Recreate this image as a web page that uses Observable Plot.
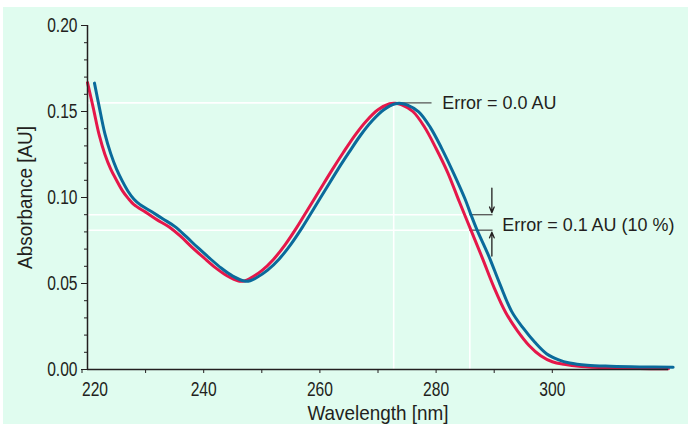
<!DOCTYPE html>
<html>
<head>
<meta charset="utf-8">
<script src="https://cdn.jsdelivr.net/npm/d3@7"></script>
<script src="https://cdn.jsdelivr.net/npm/@observablehq/plot@0.6"></script>
<style>
  html, body { margin: 0; padding: 0; background: #ffffff; }
  #frame { position: absolute; left: 3px; top: 7px; width: 685px; height: 417px; background: #e0fcef; overflow: hidden; }
  #frame svg { display: block; }
</style>
</head>
<body>
<div id="frame"></div>
<script>
// Reference spectrum (red)
const redWavelength = [220, 221, 222, 223, 224, 225, 226, 227, 228, 230, 232, 234, 236, 238, 240, 242, 244, 246, 247, 248, 250, 252, 254, 256, 258, 260, 262, 264, 266, 268, 270, 272, 273, 274, 276, 278, 280, 282, 284, 286, 288, 290, 292, 294, 296, 298, 300, 302, 305, 310, 315, 320];
const redAbsorbance = [0.1668, 0.152, 0.1365, 0.125, 0.1165, 0.110, 0.1040, 0.0995, 0.0958, 0.0915, 0.0870, 0.0830, 0.0775, 0.0710, 0.0650, 0.0592, 0.0545, 0.0514, 0.0515, 0.0530, 0.0575, 0.0640, 0.0725, 0.0825, 0.0935, 0.1045, 0.1155, 0.1260, 0.1360, 0.1445, 0.1510, 0.1545, 0.1548, 0.1540, 0.1500, 0.1410, 0.1285, 0.1145, 0.0975, 0.0810, 0.0645, 0.0475, 0.0330, 0.0225, 0.0140, 0.0080, 0.0045, 0.0030, 0.0018, 0.0010, 0.0006, 0.0004];

// Shifted spectrum (blue)
const blueWavelength = [221.2, 222, 223, 224, 225, 226, 227, 228, 229, 231, 233, 235, 237, 239, 241, 243, 245, 247, 248, 249, 251, 253, 255, 257, 259, 261, 263, 265, 267, 269, 271, 273, 274, 275, 277, 279, 281, 283, 285, 286, 287, 289, 291, 293, 295, 297, 299, 301, 303, 306, 310, 315, 320.8];
const blueAbsorbance = [0.1665, 0.153, 0.137, 0.1255, 0.1165, 0.1095, 0.1035, 0.0990, 0.0960, 0.0918, 0.0875, 0.0832, 0.0772, 0.0708, 0.0648, 0.0590, 0.0543, 0.0514, 0.0516, 0.0532, 0.0578, 0.0643, 0.0728, 0.0828, 0.0938, 0.1048, 0.1158, 0.1262, 0.1362, 0.1446, 0.1510, 0.1545, 0.1547, 0.1538, 0.1498, 0.1408, 0.1283, 0.1142, 0.0990, 0.0900, 0.0815, 0.0665, 0.0495, 0.0338, 0.0240, 0.0158, 0.0092, 0.0058, 0.0038, 0.0025, 0.0019, 0.0015, 0.0013];

// Axis ticks
const xFirstTick = [220];
const xTickLabels = [240, 260, 280, 300];
const xMinorTicks = [230, 250, 270, 290];
const yTickLabels = [0.00, 0.05, 0.10, 0.15, 0.20];
const yMinorTicks = [0.01, 0.02, 0.03, 0.04, 0.06, 0.07, 0.08, 0.09, 0.11, 0.12, 0.13, 0.14, 0.16, 0.17, 0.18, 0.19];

// Annotation values
const peakWavelength = 272.7;
const peakAbsorbance = 0.155;
const errorWavelength = 285.8;
const errorHigh = 0.090;
const errorLow = 0.081;
const annotations = [
  {text: "Error = 0.0 AU", x: 281.05, y: 0.1547},
  {text: "Error = 0.1 AU (10 %)", x: 291.4, y: 0.0842}
];

const red = redWavelength.map((w, i) => ({w, a: redAbsorbance[i]}));
const blue = blueWavelength.map((w, i) => ({w, a: blueAbsorbance[i]}));

const ink = "#231f20";
const font = "'Liberation Sans', Arial, sans-serif";
const TICK_FS = 19.5;
const NOTE_FS = 18.5;

const xAxisOpts = {tickSize: 4, tickPadding: 9, tickFormat: d => String(d), fontSize: TICK_FS, label: null, stroke: ink, fill: ink};

const chart = Plot.plot({
  width: 685,
  height: 417,
  marginLeft: 84,
  marginRight: 20,
  marginTop: 18,
  marginBottom: 55,
  x: {domain: [220, 320], axis: null},
  y: {domain: [0, 0.2], axis: null},
  style: {background: "transparent", fontFamily: font, color: ink, overflow: "visible"},
  marks: [
    // white guide lines
    Plot.ruleY([peakAbsorbance], {x1: 220, x2: peakWavelength, stroke: "white", strokeWidth: 1.6}),
    Plot.ruleX([peakWavelength], {y1: 0, y2: peakAbsorbance, stroke: "white", strokeWidth: 1.6}),
    Plot.ruleY([errorHigh, errorLow], {x1: 220, x2: errorWavelength, stroke: "white", strokeWidth: 1.6}),
    Plot.ruleX([errorWavelength], {y1: 0, y2: errorHigh, stroke: "white", strokeWidth: 1.6}),
    // annotation leader lines
    Plot.ruleY([peakAbsorbance], {x1: 273.2, x2: 279.3, stroke: "#555", strokeWidth: 1.3}),
    Plot.ruleY([errorHigh, errorLow], {x1: errorWavelength, x2: 289.8, stroke: "#555", strokeWidth: 1.3}),
    Plot.arrow([{x: 289.6, y1: 0.1055, y2: errorHigh + 0.0012}], {x1: "x", x2: "x", y1: "y1", y2: "y2", stroke: ink, strokeWidth: 1.3, headLength: 7, headAngle: 45}),
    Plot.arrow([{x: 289.6, y1: 0.0660, y2: errorLow - 0.0012}], {x1: "x", x2: "x", y1: "y1", y2: "y2", stroke: ink, strokeWidth: 1.3, headLength: 7, headAngle: 45}),
    // spectra
    Plot.line(red, {x: "w", y: "a", stroke: "#e5174a", strokeWidth: 3, curve: "catmull-rom"}),
    Plot.line(blue, {x: "w", y: "a", stroke: "#0a6a9b", strokeWidth: 3, curve: "catmull-rom"}),
    // axes
    Plot.ruleY([0], {x1: 220, x2: 320, stroke: ink, strokeWidth: 1.5}),
    Plot.ruleX([220], {y1: 0, y2: 0.2, stroke: ink, strokeWidth: 1.5}),
    Plot.axisX(xFirstTick, {...xAxisOpts, textAnchor: "start", dx: -5.5}),
    Plot.axisX(xTickLabels, xAxisOpts),
    Plot.axisX(xMinorTicks, {tickSize: 4, tickFormat: () => "", label: null, stroke: ink}),
    Plot.axisY(yTickLabels, {tickSize: 6, tickPadding: 4, tickFormat: d3.format(".2f"), fontSize: TICK_FS, label: null, stroke: ink, fill: ink}),
    Plot.axisY(yMinorTicks, {tickSize: 3, tickFormat: () => "", label: null, stroke: ink}),
    // axis titles
    Plot.text(["Absorbance [AU]"], {frameAnchor: "left", textAnchor: "middle", lineAnchor: "middle", rotate: -90, dx: -62.5, fontSize: 21, fill: ink}),
    Plot.text(["Wavelength [nm]"], {frameAnchor: "bottom", textAnchor: "middle", lineAnchor: "middle", dy: 44, fontSize: 21, fill: ink}),
    // annotations
    Plot.text(annotations, {x: "x", y: "y", text: "text", textAnchor: "start", lineAnchor: "middle", fontSize: NOTE_FS, fill: ink})
  ]
});
document.getElementById("frame").appendChild(chart);

// Condense the text horizontally (the original uses a condensed typeface)
chart.querySelectorAll("text").forEach(el => {
  const txt = el.textContent;
  if (!txt) return;
  const g = el.closest("[font-size]");
  const fs = g ? parseFloat(g.getAttribute("font-size")) : 10;
  const factor = fs === TICK_FS ? 0.80 : fs === NOTE_FS ? 0.97 : 0.90;
  const len = el.getComputedTextLength();
  if (len > 0) {
    el.setAttribute("textLength", (len * factor).toFixed(2));
    el.setAttribute("lengthAdjust", "spacingAndGlyphs");
  }
});
</script>
</body>
</html>
